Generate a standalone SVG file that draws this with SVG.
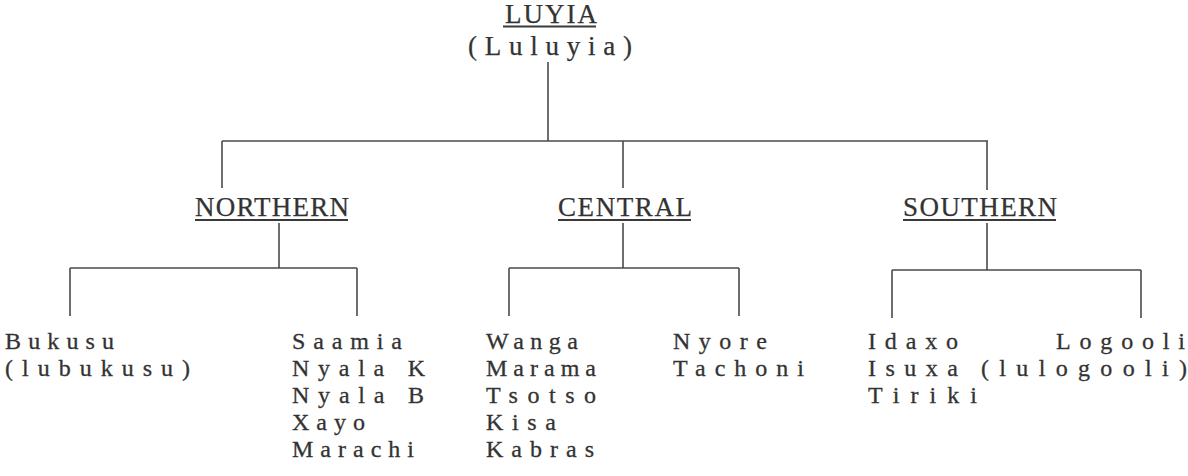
<svg xmlns="http://www.w3.org/2000/svg" width="1188" height="476" viewBox="0 0 1188 476">
<style>
  .t { font-family: "Liberation Serif", "Times New Roman", serif; font-size: 27px; fill: #333; stroke: #333; stroke-width: 0.25; }
  .s { font-family: "Liberation Serif", "Times New Roman", serif; font-size: 24px; fill: #333; stroke: #333; stroke-width: 0.3; }
  .ln { stroke: #4a4a4a; stroke-width: 1.6; fill: none; }
  .ul { stroke: #3a3a3a; stroke-width: 1.8; fill: none; }
</style>
<rect width="1188" height="476" fill="#ffffff"/>
<g id="connectors">
  <path class="ln" d="M548 62 V141"/>
  <path class="ln" d="M222 141 H988"/>
  <path class="ln" d="M222 141 V188"/>
  <path class="ln" d="M623 141 V188"/>
  <path class="ln" d="M987 141 V190"/>
  <path class="ln" d="M279 223 V268 M70 268 H357 M70 268 V316 M357 268 V316"/>
  <path class="ln" d="M623 223 V268 M509 268 H739 M509 268 V316 M739 268 V316"/>
  <path class="ln" d="M987 223 V270 M892 270 H1141 M892 270 V318 M1141 270 V318"/>
</g>
<g id="node-luyia">
  <text class="t" x="505" y="23" textLength="92" lengthAdjust="spacing">LUYIA</text>
  <path class="ul" d="M503 26.5 H596"/>
  <text class="t" x="468" y="55" textLength="164" lengthAdjust="spacing">(Luluyia)</text>
</g>
<g id="node-northern">
  <text class="t" x="195" y="216" textLength="154" lengthAdjust="spacing">NORTHERN</text>
  <path class="ul" d="M195 220 H348"/>
</g>
<g id="node-central">
  <text class="t" x="558" y="216" textLength="134" lengthAdjust="spacing">CENTRAL</text>
  <path class="ul" d="M558 220 H691"/>
</g>
<g id="node-southern">
  <text class="t" x="903" y="216" textLength="154" lengthAdjust="spacing">SOUTHERN</text>
  <path class="ul" d="M903 220 H1056"/>
</g>
<g id="node-bukusu">
  <text class="s" x="5" y="349" textLength="109" lengthAdjust="spacing">Bukusu</text>
  <text class="s" x="5" y="376" textLength="185" lengthAdjust="spacing">(lubukusu)</text>
</g>
<g id="node-saamia">
  <text class="s" x="292" y="349" textLength="110" lengthAdjust="spacing">Saamia</text>
  <text class="s" x="292" y="376" textLength="133" lengthAdjust="spacing">Nyala K</text>
  <text class="s" x="292" y="403" textLength="132" lengthAdjust="spacing">Nyala B</text>
  <text class="s" x="292" y="430" textLength="73" lengthAdjust="spacing">Xayo</text>
  <text class="s" x="292" y="457" textLength="122" lengthAdjust="spacing">Marachi</text>
</g>
<g id="node-wanga">
  <text class="s" x="486" y="349" textLength="92" lengthAdjust="spacing">Wanga</text>
  <text class="s" x="486" y="376" textLength="110" lengthAdjust="spacing">Marama</text>
  <text class="s" x="486" y="403" textLength="110" lengthAdjust="spacing">Tsotso</text>
  <text class="s" x="486" y="430" textLength="70" lengthAdjust="spacing">Kisa</text>
  <text class="s" x="486" y="457" textLength="108" lengthAdjust="spacing">Kabras</text>
</g>
<g id="node-nyore">
  <text class="s" x="673" y="349" textLength="94" lengthAdjust="spacing">Nyore</text>
  <text class="s" x="673" y="376" textLength="131" lengthAdjust="spacing">Tachoni</text>
</g>
<g id="node-idaxo">
  <text class="s" x="868" y="349" textLength="90" lengthAdjust="spacing">Idaxo</text>
  <text class="s" x="868" y="376" textLength="90" lengthAdjust="spacing">Isuxa</text>
  <text class="s" x="868" y="403" textLength="109" lengthAdjust="spacing">Tiriki</text>
</g>
<g id="node-logooli">
  <text class="s" x="1056" y="349" textLength="129" lengthAdjust="spacing">Logooli</text>
  <text class="s" x="981" y="376" textLength="206" lengthAdjust="spacing">(lulogooli)</text>
</g>
</svg>
